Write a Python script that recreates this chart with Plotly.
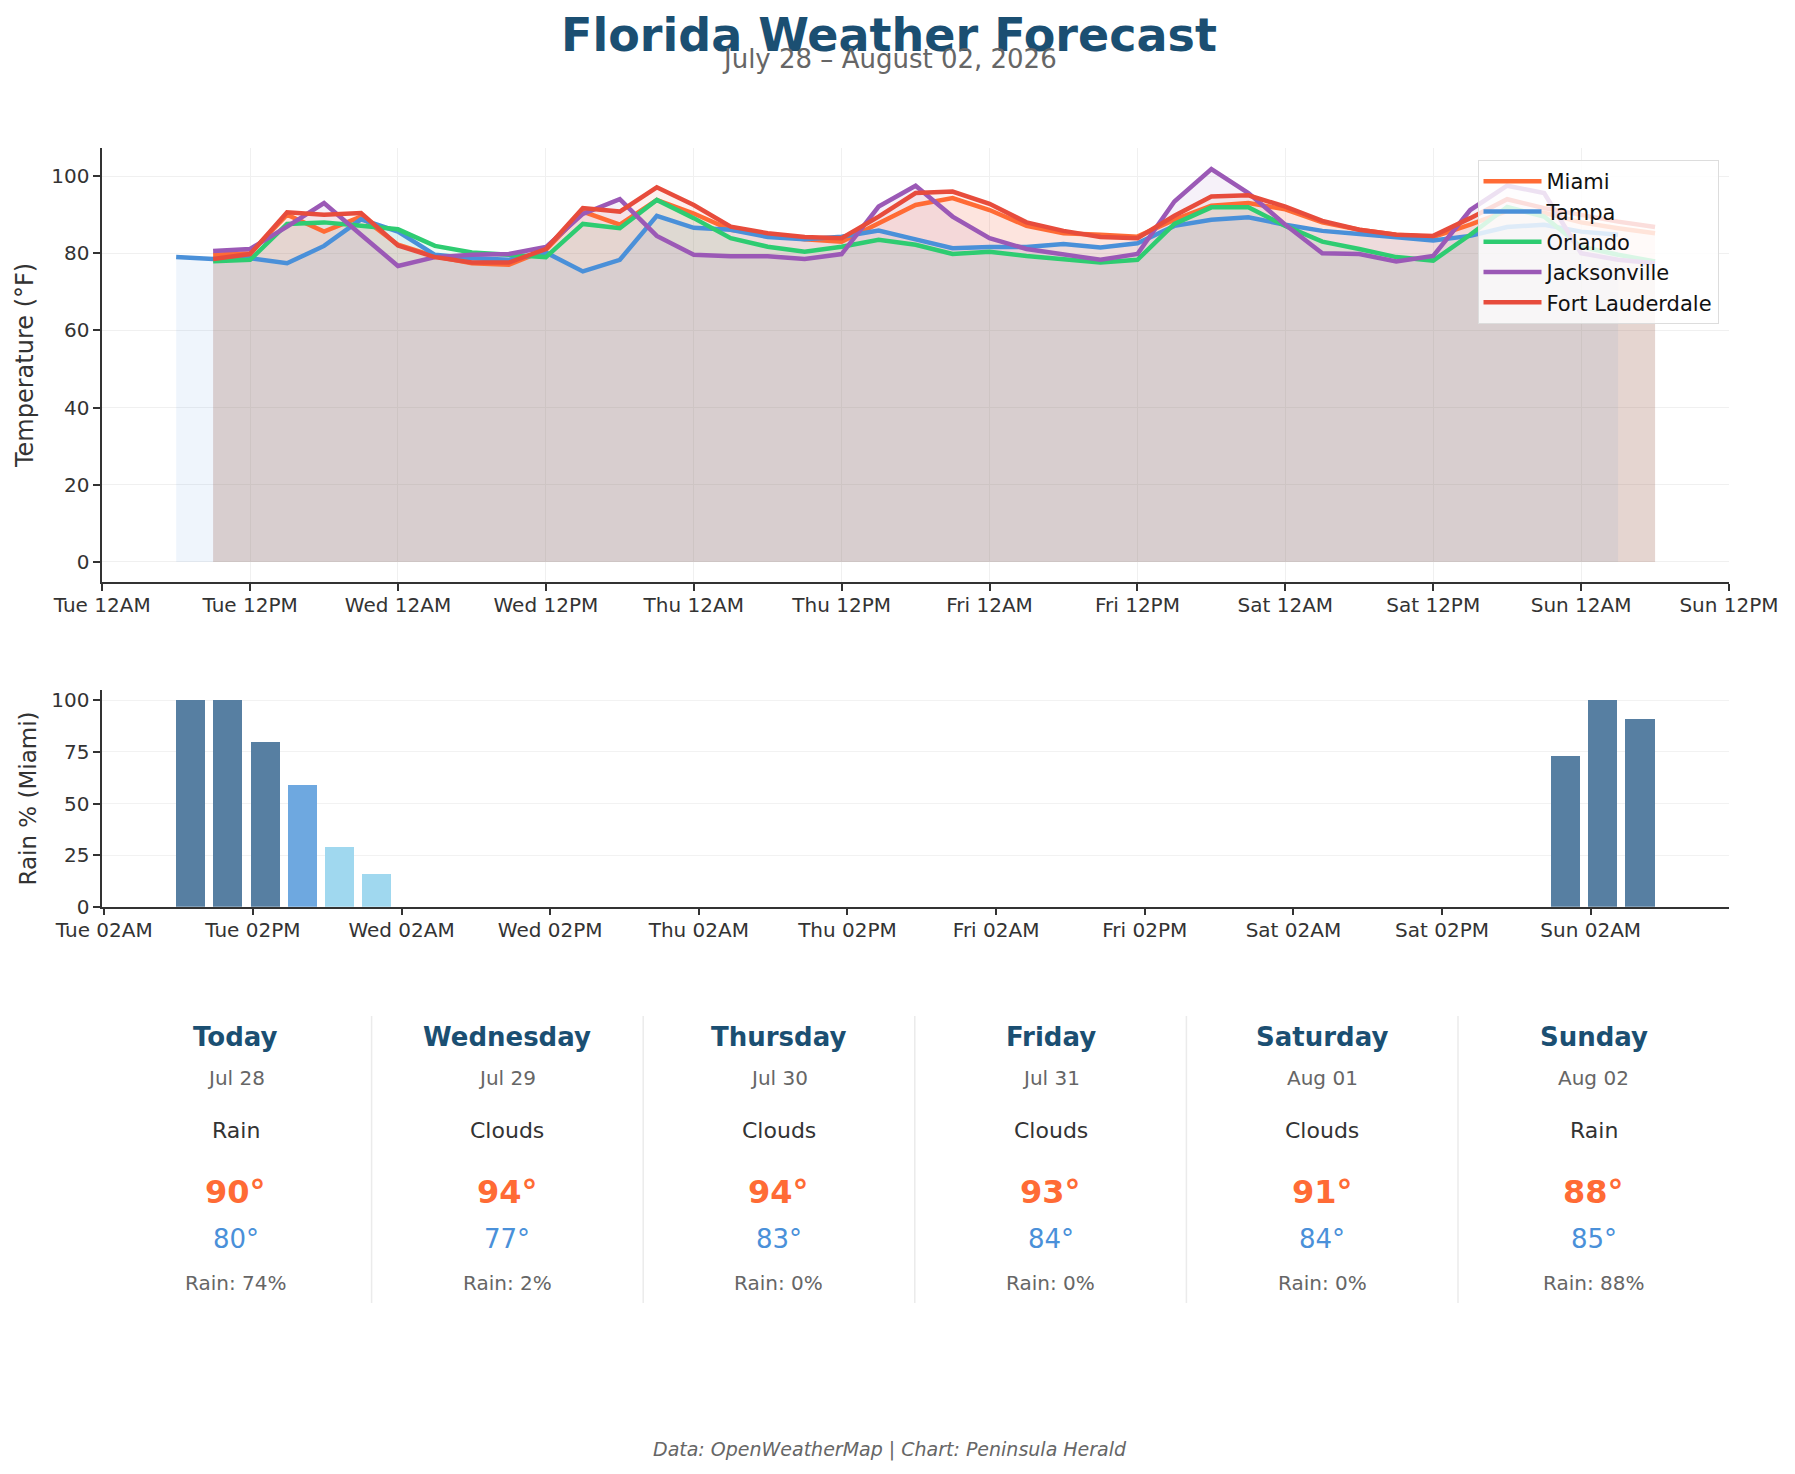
import plotly.graph_objects as go
import pandas as pd

W, H = 1795, 1474

# ---------------- data ----------------
cities = ["Miami", "Tampa", "Orlando", "Jacksonville", "Fort Lauderdale"]
city_colors = ["#FF6B35", "#4A90D9", "#2ECC71", "#9B59B6", "#E74C3C"]

# 3-hourly forecast times (Tampa feed starts 3 h earlier)
times_main = pd.date_range("2026-07-28 09:00", periods=40, freq="3h")
times_tampa = pd.date_range("2026-07-28 06:00", periods=40, freq="3h")

miami_temp = [79.6, 80.0, 90.0, 85.6, 89.5,
              82.2, 79.2, 77.4, 77.0, 80.9, 90.8, 87.4, 93.8,
              90.3, 86.1, 84.8, 83.6, 83.0, 87.6, 92.5, 94.3,
              91.2, 87.1, 85.2, 84.8, 84.3, 88.7, 92.3, 93.0,
              91.4, 88.0, 86.1, 84.8, 84.2, 87.4, 91.0, 90.5,
              88.0, 86.5, 85.2]
tampa_temp = [79.0, 78.5, 78.7, 77.4, 81.9, 88.8,
              85.6, 79.6, 78.7, 78.3, 80.2, 75.3, 78.3, 89.7,
              86.6, 86.1, 84.2, 83.6, 84.3, 85.9, 83.6, 81.3,
              81.6, 81.6, 82.4, 81.5, 82.6, 87.1, 88.7, 89.3,
              87.4, 85.8, 85.0, 84.2, 83.3, 84.5, 86.8, 87.4,
              85.6, 84.8]
orlando_temp = [77.9, 78.3, 87.6, 88.0, 87.1,
                86.2, 81.9, 80.2, 79.6, 79.0, 87.6, 86.5, 93.8,
                89.1, 83.9, 81.7, 80.4, 81.7, 83.5, 82.2, 79.8,
                80.4, 79.3, 78.5, 77.6, 78.3, 87.6, 91.9, 91.9,
                87.1, 83.0, 81.1, 79.0, 78.1, 84.8, 92.0, 89.5,
                81.7, 79.6, 77.9]
jacksonville_temp = [80.6, 81.1, 86.9, 93.0, 84.8,
                     76.7, 79.0, 79.6, 79.8, 81.6, 90.2, 94.0, 84.5,
                     79.6, 79.2, 79.2, 78.5, 79.8, 92.1, 97.5, 89.5,
                     83.9, 81.1, 79.6, 78.3, 79.8, 93.4, 101.8, 95.6,
                     87.4, 80.0, 79.8, 77.9, 79.3, 91.2, 97.5, 95.6,
                     80.0, 78.3, 77.4]
fort_lauderdale_temp = [78.5, 79.8, 90.6, 90.0, 90.4,
                        82.0, 79.0, 77.6, 77.6, 81.1, 91.7, 90.8, 97.1,
                        92.5, 86.9, 85.2, 84.2, 83.9, 89.5, 95.6, 96.0,
                        92.8, 88.0, 85.8, 84.2, 83.9, 89.7, 94.7, 95.0,
                        92.1, 88.4, 86.1, 84.8, 84.5, 89.1, 94.0, 91.7,
                        90.0, 88.2, 86.8]

miami_rain = [100, 100, 80, 59, 29, 16] + [0] * 31 + [73, 100, 91]

top_ticks = pd.date_range("2026-07-28 00:00", periods=12, freq="12h")
bar_ticks = pd.date_range("2026-07-28 02:00", periods=11, freq="12h")
temp_ticks = [0, 20, 40, 60, 80, 100]
rain_ticks = [0, 25, 50, 75, 100]

card_days = ["Today", "Wednesday", "Thursday", "Friday", "Saturday", "Sunday"]
card_dates = ["Jul 28", "Jul 29", "Jul 30", "Jul 31", "Aug 01", "Aug 02"]
card_conditions = ["Rain", "Clouds", "Clouds", "Clouds", "Clouds", "Rain"]
card_highs = [90, 94, 94, 93, 91, 88]
card_lows = [80, 77, 83, 84, 84, 85]
card_rain = [74, 2, 0, 0, 0, 88]

# ---------------- helpers ----------------
def px(x):
    return x / W

def py(y):
    return 1 - y / H

def rgba(hexc, a):
    h = hexc.lstrip("#")
    r, g, b = int(h[0:2], 16), int(h[2:4], 16), int(h[4:6], 16)
    return f"rgba({r},{g},{b},{a})"

def bar_color(v):
    if v >= 70:
        return "#577fa2"
    if v >= 40:
        return "#6ea8e0"
    return "#a0d8ef"

FONT = "DejaVu Sans"
NAVY = "#1b4f72"
X0, X1 = 102.2, 1729.0

fig = go.Figure()

series = {
    "Miami": (times_main, miami_temp),
    "Tampa": (times_tampa, tampa_temp),
    "Orlando": (times_main, orlando_temp),
    "Jacksonville": (times_main, jacksonville_temp),
    "Fort Lauderdale": (times_main, fort_lauderdale_temp),
}

for city, col in zip(cities, city_colors):
    t, v = series[city]
    fig.add_trace(go.Scatter(x=t, y=v, mode="none", fill="tozeroy",
                             fillcolor=rgba(col, 0.085), showlegend=False,
                             hoverinfo="skip", xaxis="x", yaxis="y"))
for city, col in zip(cities, city_colors):
    t, v = series[city]
    fig.add_trace(go.Scatter(x=t, y=v, mode="lines", name=city,
                             legendgroup=city,
                             line=dict(color=col, width=4.5),
                             xaxis="x", yaxis="y"))

fig.add_trace(go.Bar(x=times_main, y=miami_rain,
                     marker=dict(color=[bar_color(v) for v in miami_rain], line=dict(width=0)),
                     width=2.35 * 3600 * 1000, showlegend=False,
                     xaxis="x2", yaxis="y2"))

axis_common = dict(showline=True, linecolor="#333333", linewidth=1.5,
                   ticks="outside", ticklen=7, tickwidth=1.5, tickcolor="#333333",
                   tickfont=dict(family=FONT, size=20, color="#333333"),
                   zeroline=False, mirror=False, automargin=False)

fig.update_layout(
    width=W, height=H,
    margin=dict(l=0, r=0, t=0, b=0, autoexpand=False),
    paper_bgcolor="white", plot_bgcolor="white",
    font=dict(family=FONT, color="#333333"),
    bargap=0,
    xaxis=dict(domain=[px(X0), px(X1)], anchor="y", type="date",
               range=["2026-07-28 00:00", "2026-08-02 12:00"],
               tickvals=top_ticks, tickformat="%a %I%p", ticklabelstandoff=-3,
               showgrid=True, gridcolor="#f0f0f0", gridwidth=1, **axis_common),
    yaxis=dict(domain=[py(582), py(148.3)], anchor="x",
               range=[-5.2, 107.2], tickvals=temp_ticks,
               showgrid=True, gridcolor="#f0f0f0", gridwidth=1, **axis_common),
    xaxis2=dict(domain=[px(X0), px(X1)], anchor="y2", type="date",
                range=["2026-07-28 01:50", "2026-08-02 13:10"],
                tickvals=bar_ticks, tickformat="%a %I%p", ticklabelstandoff=-2,
                showgrid=False, **axis_common),
    yaxis2=dict(domain=[py(906.7), py(690)], anchor="x2",
                range=[0, 105], tickvals=rain_ticks,
                showgrid=True, gridcolor="#f2f2f2", gridwidth=1, **axis_common),
    legend=dict(x=px(1718.5), xanchor="right", y=py(160), yanchor="top",
                bgcolor="rgba(255,255,255,0.82)", bordercolor="#dddddd", borderwidth=1,
                font=dict(family=FONT, size=21, color="#111111"),
                tracegroupgap=0, itemwidth=58),
)

ann = []
# titles
ann.append(dict(text="<b>Florida Weather Forecast</b>", x=px(889), y=py(35),
                font=dict(family=FONT, size=46, color=NAVY)))
ann.append(dict(text="July 28 – August 02, 2026", x=px(889), y=py(59),
                font=dict(family=FONT, size=26, color="#666666")))
# axis titles
ann.append(dict(text="Temperature (°F)", x=px(25), y=py(366), textangle=-90,
                font=dict(family=FONT, size=24, color="#333333")))
ann.append(dict(text="Rain % (Miami)", x=px(27.5), y=py(799), textangle=-90,
                font=dict(family=FONT, size=23, color="#333333")))
# cards
col_w = (1729.6 - 100) / 6
for i in range(6):
    cx = px(100 + col_w * (i + 0.5))
    ann.append(dict(text=f"<b>{card_days[i]}</b>", x=cx, y=py(1037),
                    font=dict(family=FONT, size=26, color=NAVY)))
    ann.append(dict(text=card_dates[i], x=cx, y=py(1078),
                    font=dict(family=FONT, size=20, color="#666666")))
    ann.append(dict(text=card_conditions[i], x=cx, y=py(1130),
                    font=dict(family=FONT, size=22, color="#333333")))
    ann.append(dict(text=f"<b>{card_highs[i]}°</b>", x=cx, y=py(1192),
                    font=dict(family=FONT, size=32, color="#FF6B35")))
    ann.append(dict(text=f"{card_lows[i]}°", x=cx, y=py(1239),
                    font=dict(family=FONT, size=26, color="#4A90D9")))
    ann.append(dict(text=f"Rain: {card_rain[i]}%", x=cx, y=py(1283),
                    font=dict(family=FONT, size=20, color="#666666")))
# footer
ann.append(dict(text="<i>Data: OpenWeatherMap | Chart: Peninsula Herald</i>",
                x=px(889.6), y=py(1449), font=dict(family=FONT, size=19, color="#666666")))

for a in ann:
    a.update(xref="paper", yref="paper", showarrow=False,
             xanchor="center", yanchor="middle")
fig.update_layout(annotations=ann)

shapes = []
for i in range(1, 6):
    sx = px(100 + col_w * i)
    shapes.append(dict(type="line", xref="paper", yref="paper",
                       x0=sx, x1=sx, y0=py(1016), y1=py(1303),
                       line=dict(color="#ebebeb", width=1.5)))
fig.update_layout(shapes=shapes)

fig.write_html("out.html")
